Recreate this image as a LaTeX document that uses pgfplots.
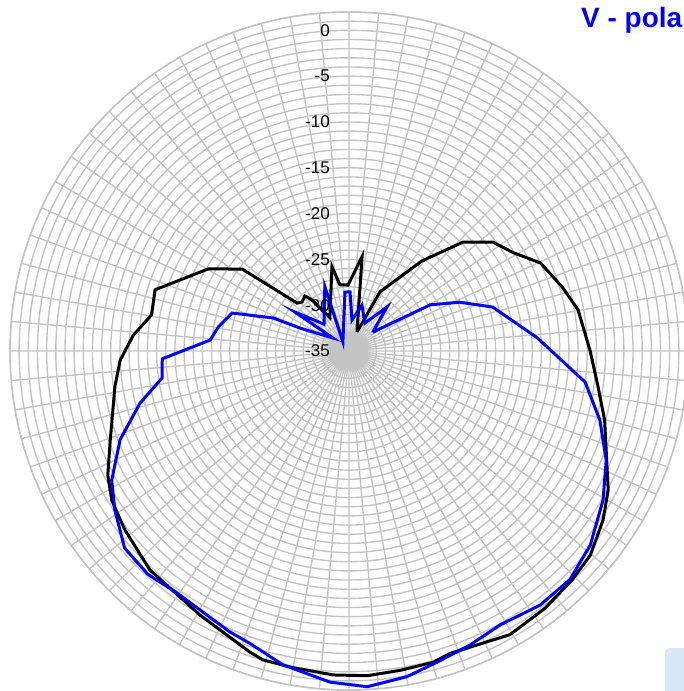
\documentclass[border=0pt]{standalone}
\usepackage{fontspec}
\setmainfont{Liberation Sans}
\usepackage{pgfplots}
\usepackage{pgfplotstable}
\usepgfplotslibrary{polar}
\pgfplotsset{compat=1.18}
\definecolor{gridgray}{RGB}{196,196,196}
\definecolor{boxblue}{RGB}{214,233,248}
\definecolor{pureblue}{RGB}{0,0,255}

\pgfplotstableread{
a db
67.2 -32.75
62.3 -27.7
51.0 -22.35
43.7 -17.8
37.1 -15.3
30.9 -14.1
24.7 -12.0
16.7 -10.7
10.2 -9.6
0.2 -8.7
-7.8 -7.6
-15.1 -6.1
-28.2 -2.9
-33.6 -1.7
-40.2 -0.5
-45.8 -0.1
-52.7 0.3
-60.4 0.6
-71.5 -0.2
-74.9 0.2
-80.9 0.3
-86.8 0.5
-92.8 0.4
-100.0 0.1
-105.6 0.0
-108.2 -0.4
-119.4 -1.9
-132.3 -2.7
-141.4 -3.7
-147.8 -4.4
-152.8 -5.4
-159.6 -7.2
-171.3 -9.15
-177.7 -10.0
-184.2 -11.4
-190.4 -13.1
-197.5 -12.8
-210.2 -17.2
-217.5 -20.3
-222.7 -27.3
-226.2 -27.6
-231.3 -27.3
-234.0 -28.1
-240.1 -30.8
-258.6 -25.6
-262.2 -27.7
-269.1 -27.8
-277.9 -24.6
-292.8 -32.75
}\blackdata

\pgfplotstableread{
a db
38.4 -31.7
29.6 -24.8
23.8 -21.8
17.0 -18.6
4.0 -14.4
-7.5 -9.0
-15.4 -6.6
-23.0 -4.5
-30.4 -2.85
-38.8 -1.2
-46.0 -0.3
-53.1 -0.3
-61.1 -0.85
-67.6 -0.3
-74.2 0.3
-79.9 1.1
-86.9 1.7
-93.3 1.2
-101.9 0.0
-108.7 -1.3
-113.0 -1.7
-125.8 -2.6
-132.0 -2.2
-138.7 -2.4
-145.8 -4.1
-151.4 -5.5
-158.8 -8.2
-166.0 -11.5
-171.8 -14.4
-177.6 -14.6
-184.5 -19.8
-190.4 -20.5
-198.0 -21.6
-203.5 -25.95
-205.1 -29.1
-219.1 -32.75
-215.8 -27.7
-227.0 -31.0
-249.4 -27.5
-236.3 -33.8
-266.1 -28.55
-271.0 -28.55
-275.5 -31.6
-285.8 -29.8
-299.7 -31.5
-310.8 -28.65
-321.6 -31.7
}\bluedata

\begin{document}
\begin{tikzpicture}[x=1pt,y=1pt]
\begin{polaraxis}[
  at={(0,0)}, anchor=center,
  scale only axis, width=678pt, height=678pt,
  xmin=0, xmax=360, ymin=0, ymax=37,
  xtick={0,5,...,355}, ytick={0,1,...,37},
  xticklabels={}, yticklabels={},
  major tick length=0pt,
  grid=major,
  major grid style={draw=gridgray, line width=1.4pt},
  axis line style={draw=gridgray, line width=1.4pt},
  y axis line style={draw=none},
  clip=false,
]
\addplot[black, line width=3pt, line join=miter, no markers] table[x=a, y expr=\thisrow{db}+35] {\blackdata};
\addplot[pureblue, line width=3pt, line join=miter, no markers] table[x=a, y expr=\thisrow{db}+35] {\bluedata};
\foreach \v/\t in {35/0,30/-5,25/-10,20/-15,15/-20,10/-25,5/-30,0/-35}{
  \edef\temp{\noexpand\node[anchor=east, inner sep=0pt, xshift=-19pt, font=\noexpand\fontsize{17}{20}\noexpand\selectfont] at (axis cs:90,\v) {\t};}
  \temp
}
\end{polaraxis}
\node[anchor=base west, inner sep=0pt, text=pureblue, font=\fontsize{28}{32}\selectfont\bfseries] at (232,323) {V - polarization};
\fill[boxblue, rounded corners=4pt] (316,-297) rectangle (345,-350);
\pgfresetboundingbox
\useasboundingbox (-349,-340) rectangle (335,351);
\end{tikzpicture}
\end{document}
